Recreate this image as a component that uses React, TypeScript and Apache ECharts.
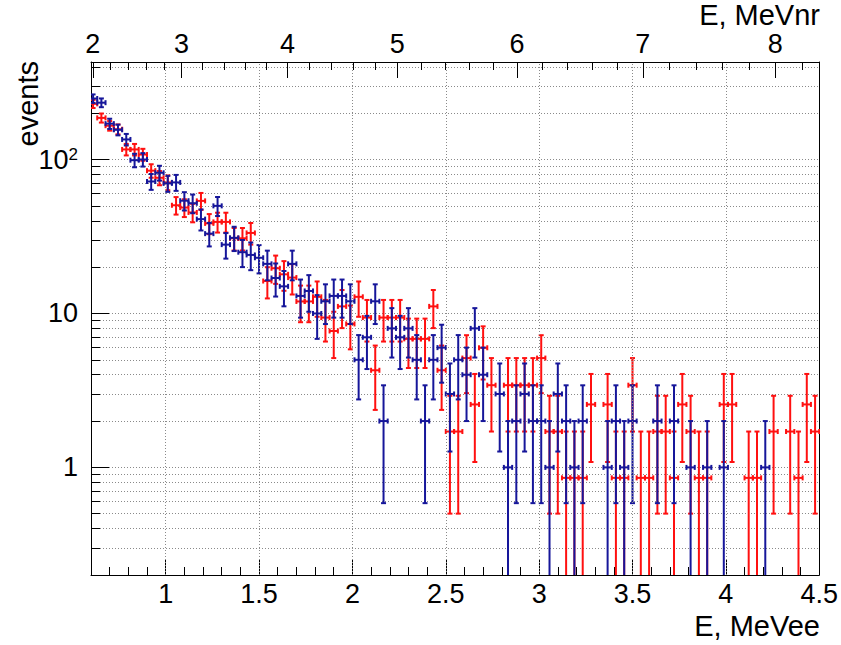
import React, { useEffect, useRef } from "react";
import * as echarts from "echarts";

// ---- binning (bin edges at BIN_LOW + k * BIN_WIDTH), first drawn bin index ----
const BIN_LOW = 0.5;
const BIN_WIDTH = 4 / 90;
const FIRST_BIN = 2;

// blue histogram: raw counts per bin (null = empty bin), bins k = 2 .. 89
const BLUE_COUNTS: (number | null)[] = [
  249, 234, 171, 156, 135, 99, 100, 72, 82, 70,
  71, 54, 52, 41, 33, 50, 28, 31, 25, 24,
  23, 21, 17, 15, 21, 13, 14, 10, 12, 13,
  13, 12, 5, 7, 12, 2, 8, 7, 8, 5,
  2, 5, 6, 3, 5, 4, 8, 4, null, 3,
  1, 2, 3, 2, 2, 1, 3, 2, 1, 2,
  null, null, 1, 2, 1, 2, null, null, 2, null,
  2, null, 1, null, 1, null, 1, null, null, null,
  null, 1, null, null, null, null, null, null,
];

// red histogram: raw counts per bin (drawn scaled by RED_SCALE), bins k = 2 .. 89
const RED_COUNTS: (number | null)[] = [
  269, 218, 194, 184, 136, 136, 126, 99, 89, 83,
  59, 57, 53, 63, 45, 46, 46, 36, 36, 39,
  null, 19, 23, 21, 20, 14, 14, 15, 11, 9,
  13, 10, 15, 11, 5, 11, 11, 11, 8, 8,
  8, 13, 5, 2, 2, 6, 3, 7, 4, null,
  4, 4, 4, 4, 6, 2, 2, 1, 1, 1,
  3, null, 3, 1, 1, 4, 1, 1, 2, 2,
  1, 3, 2, 1, 1, null, 3, 3, null, 1,
  1, null, 2, null, 2, 1, 3, 2,
];
const RED_SCALE = 0.855;

// axes
const X_MIN = 0.6;
const X_MAX = 4.5;
const X_MAJOR = [1, 1.5, 2, 2.5, 3, 3.5, 4, 4.5];
const Y_MIN = 0.2;
const Y_MAX = 430;
const Y_MAJOR = [1, 10, 100];
const TOP_NR = [2, 3, 4, 5, 6, 7, 8]; // MeVnr labels
const TOP_EE = [0.61, 1.085, 1.652, 2.24, 2.882, 3.555, 4.265]; // their MeVee positions

const BLUE = "#16169a";
const RED = "#ff1010";
const FONT = "'Liberation Sans', Arial, Helvetica, sans-serif";
const GRID_STYLE = { type: [1, 2] as any, color: "#8a8a8a", width: 1 };

function nrToEe(nr: number): number {
  let i = 0;
  if (nr <= TOP_NR[0]) i = 0;
  else if (nr >= TOP_NR[TOP_NR.length - 1]) i = TOP_NR.length - 2;
  else {
    while (i < TOP_NR.length - 2 && nr > TOP_NR[i + 1]) i++;
  }
  const t = (nr - TOP_NR[i]) / (TOP_NR[i + 1] - TOP_NR[i]);
  return TOP_EE[i] + t * (TOP_EE[i + 1] - TOP_EE[i]);
}

function buildData(counts: (number | null)[], scale: number) {
  const out: number[][] = [];
  counts.forEach((n, i) => {
    if (n === null || n <= 0) return;
    const k = FIRST_BIN + i;
    const center = BIN_LOW + (k + 0.5) * BIN_WIDTH;
    out.push([center, n * scale, Math.sqrt(n) * scale]);
  });
  return out;
}

function makeRender(color: string) {
  return (params: any, api: any) => {
    const x = api.value(0);
    const v = api.value(1);
    const e = api.value(2);
    const half = BIN_WIDTH / 2;
    const pL = api.coord([x - half, v]);
    const pR = api.coord([x + half, v]);
    const pC = api.coord([x, v]);
    const hi = Math.min(v + e, Y_MAX);
    const lo = v - e;
    const loVisible = lo > Y_MIN;
    const yTop = api.coord([x, hi])[1];
    const yBot = api.coord([x, loVisible ? lo : Y_MIN])[1];
    const cap = 2.5;
    const style = { stroke: color, lineWidth: 2 };
    const children: any[] = [
      { type: "line", shape: { x1: pL[0], y1: pC[1], x2: pR[0], y2: pC[1] }, style },
      { type: "line", shape: { x1: pC[0], y1: yTop, x2: pC[0], y2: yBot }, style },
      { type: "line", shape: { x1: pC[0] - cap, y1: yTop, x2: pC[0] + cap, y2: yTop }, style },
      { type: "line", shape: { x1: pL[0], y1: pC[1] - cap, x2: pL[0], y2: pC[1] + cap }, style },
      { type: "line", shape: { x1: pR[0], y1: pC[1] - cap, x2: pR[0], y2: pC[1] + cap }, style },
    ];
    if (loVisible) {
      children.push({
        type: "line",
        shape: { x1: pC[0] - cap, y1: yBot, x2: pC[0] + cap, y2: yBot },
        style,
      });
    }
    return { type: "group", children };
  };
}

export default function App() {
  const ref = useRef<HTMLDivElement>(null);

  useEffect(() => {
    document.body.style.margin = "0";
    if (!ref.current) return;
    const chart = echarts.init(ref.current, undefined, { renderer: "svg" });

    const xMinor: number[] = [];
    for (let i = Math.round(X_MIN * 10); i <= Math.round(X_MAX * 10); i++) xMinor.push(i / 10);

    const topMinor: number[] = [];
    for (let j = 0; j <= 40; j++) {
      const nr = 1.6 + j * 0.2;
      const ee = nrToEe(nr);
      if (ee >= X_MIN && ee <= X_MAX) topMinor.push(ee);
    }

    const yAll: number[] = [];
    [0.1, 1, 10, 100].forEach((dec) => {
      for (let m = 1; m <= 9; m++) {
        const v = +(m * dec).toPrecision(3);
        if (v >= Y_MIN && v <= Y_MAX) yAll.push(v);
      }
    });

    const axisLine = { show: true, onZero: false, lineStyle: { color: "#000", width: 1 } };

    chart.setOption({
      animation: false,
      backgroundColor: "#fff",
      grid: { left: 91, right: 20, top: 62, bottom: 70, containLabel: false },
      xAxis: [
        {
          type: "value",
          position: "bottom",
          min: X_MIN,
          max: X_MAX,
          axisLine,
          axisTick: { show: true, inside: true, length: 16, customValues: X_MAJOR, lineStyle: { color: "#000" } },
          axisLabel: {
            customValues: X_MAJOR,
            fontSize: 27,
            fontFamily: FONT,
            color: "#000",
            margin: 5,
            formatter: (v: number) => String(v),
          },
          splitLine: { show: false },
        },
        {
          type: "value",
          position: "bottom",
          min: X_MIN,
          max: X_MAX,
          axisLine: { show: false },
          axisTick: { show: true, inside: true, length: 8, customValues: xMinor, lineStyle: { color: "#000" } },
          axisLabel: { show: false },
          splitLine: { show: false },
        },
        {
          type: "value",
          position: "top",
          min: X_MIN,
          max: X_MAX,
          axisLine,
          axisTick: { show: true, inside: true, length: 16, customValues: TOP_EE, lineStyle: { color: "#000" } },
          axisLabel: {
            customValues: TOP_EE,
            fontSize: 27,
            fontFamily: FONT,
            color: "#000",
            margin: 5,
            formatter: (v: number) => {
              const i = TOP_EE.findIndex((e) => Math.abs(e - v) < 1e-6);
              return i >= 0 ? String(TOP_NR[i]) : "";
            },
          },
          splitLine: { show: false },
        },
        {
          type: "value",
          position: "top",
          min: X_MIN,
          max: X_MAX,
          axisLine: { show: false },
          axisTick: { show: true, inside: true, length: 8, customValues: topMinor, lineStyle: { color: "#000" } },
          axisLabel: { show: false },
          splitLine: { show: false },
        },
      ],
      yAxis: [
        {
          type: "log",
          position: "left",
          min: Y_MIN,
          max: Y_MAX,
          axisLine,
          axisTick: { show: true, inside: true, length: 9, customValues: yAll, lineStyle: { color: "#000" } },
          axisLabel: { show: false },
          splitLine: { show: true, lineStyle: GRID_STYLE },
        },
        {
          type: "log",
          position: "left",
          min: Y_MIN,
          max: Y_MAX,
          axisLine: { show: false },
          axisTick: { show: true, inside: true, length: 18, customValues: Y_MAJOR, lineStyle: { color: "#000" } },
          axisLabel: {
            customValues: Y_MAJOR,
            fontSize: 27,
            fontFamily: FONT,
            color: "#000",
            margin: 13,
            formatter: (v: number) => {
              const p = Math.round(Math.log10(v));
              return p >= 2 ? `{b|10}{s|${p}}` : `{b|${v}}`;
            },
            rich: {
              b: { fontSize: 27, fontFamily: FONT, color: "#000" },
              s: { fontSize: 17, fontFamily: FONT, color: "#000", verticalAlign: "top" },
            },
          },
          splitLine: { show: false },
        },
        {
          type: "log",
          position: "right",
          min: Y_MIN,
          max: Y_MAX,
          axisLine,
          axisTick: { show: false },
          axisLabel: { show: false },
          splitLine: { show: false },
        },
      ],
      graphic: [
        {
          type: "text",
          x: 820,
          y: 626,
          style: { text: "E, MeVee", align: "right", verticalAlign: "middle", fontSize: 29, fontFamily: FONT, fill: "#000" },
        },
        {
          type: "text",
          x: 820,
          y: 15,
          style: { text: "E, MeVnr", align: "right", verticalAlign: "middle", fontSize: 29, fontFamily: FONT, fill: "#000" },
        },
        {
          type: "text",
          x: 28,
          y: 61,
          rotation: Math.PI / 2,
          style: { text: "events", align: "right", verticalAlign: "middle", fontSize: 29, fontFamily: FONT, fill: "#000" },
        },
      ],
      series: [
        {
          type: "line",
          name: "grid",
          xAxisIndex: 0,
          yAxisIndex: 0,
          data: [],
          silent: true,
          z: 1,
          markLine: {
            silent: true,
            symbol: ["none", "none"],
            label: { show: false },
            lineStyle: GRID_STYLE,
            emphasis: { disabled: true },
            data: X_MAJOR.filter((v) => v < X_MAX).map((v) => ({ xAxis: v })),
          },
        },
        {
          type: "custom",
          name: "red",
          xAxisIndex: 0,
          yAxisIndex: 0,
          clip: true,
          renderItem: makeRender(RED),
          data: buildData(RED_COUNTS, RED_SCALE),
          z: 3,
        },
        {
          type: "custom",
          name: "blue",
          xAxisIndex: 0,
          yAxisIndex: 0,
          clip: true,
          renderItem: makeRender(BLUE),
          data: buildData(BLUE_COUNTS, 1),
          z: 4,
        },
      ],
    });

    return () => {
      chart.dispose();
    };
  }, []);

  return <div ref={ref} style={{ width: 841, height: 645 }} />;
}
